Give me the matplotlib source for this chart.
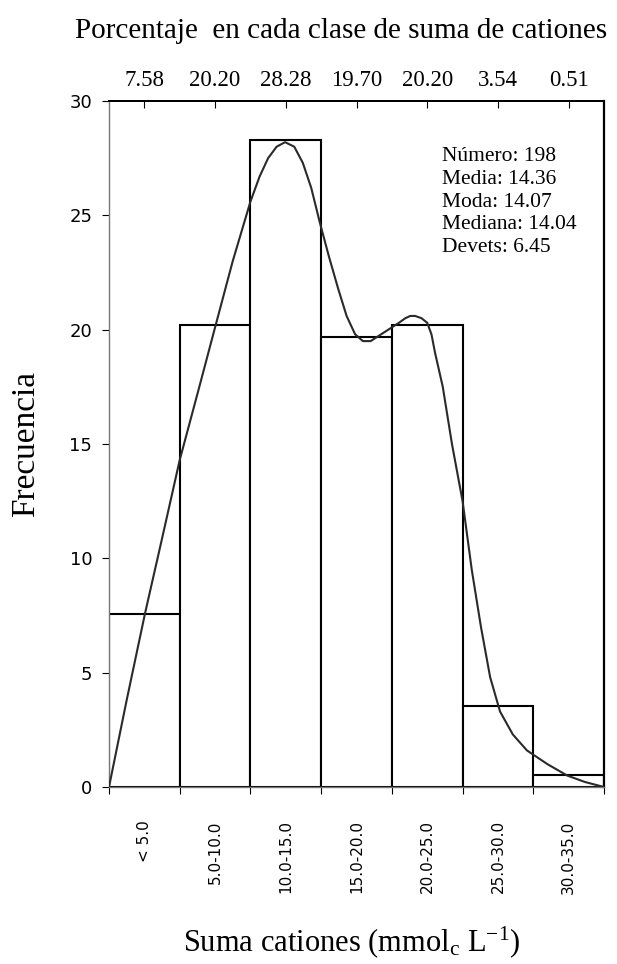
import numpy as np
import matplotlib
matplotlib.use('Agg')
import matplotlib.pyplot as plt

plt.rcParams['font.family'] = ['Liberation Serif', 'DejaVu Serif']
plt.rcParams['mathtext.fontset'] = 'custom'
plt.rcParams['mathtext.rm'] = 'Liberation Serif'
plt.rcParams['mathtext.it'] = 'Liberation Serif:italic'

# classes of cation sum and percentage per class
clases = ['< 5.0', '5.0-10.0', '10.0-15.0', '15.0-20.0', '20.0-25.0', '25.0-30.0', '30.0-35.0']
porcentaje = [7.58, 20.20, 28.28, 19.70, 20.20, 3.54, 0.51]

# smoothed density curve (position in class units, frequency)
curva_x = [0.0, 0.25, 0.51, 0.76, 1.0, 1.26, 1.5, 1.75, 2.0, 2.13, 2.25, 2.37, 2.49,
           2.62, 2.74, 2.86, 2.98, 3.11, 3.24, 3.36, 3.48, 3.59, 3.70, 3.80, 3.90,
           4.0, 4.1, 4.19, 4.26, 4.33, 4.42, 4.5, 4.56, 4.61, 4.72, 4.85, 5.0,
           5.13, 5.26, 5.39, 5.53, 5.71, 5.91, 6.2, 6.48, 6.73, 7.0]
curva_y = [0.0, 3.8, 7.6, 11.0, 14.3, 17.3, 20.1, 23.0, 25.6, 26.7, 27.5, 28.0, 28.2,
           28.0, 27.3, 26.2, 24.7, 23.2, 21.8, 20.6, 19.8, 19.5, 19.5, 19.7, 19.9,
           20.1, 20.3, 20.5, 20.6, 20.6, 20.5, 20.3, 19.8, 19.0, 17.5, 15.0, 12.5,
           9.5, 7.0, 4.8, 3.3, 2.3, 1.6, 1.0, 0.5, 0.22, 0.0]

stats = ['Número: 198', 'Media: 14.36', 'Moda: 14.07', 'Mediana: 14.04', 'Devets: 6.45']

fig = plt.figure(figsize=(6.17, 9.64), dpi=100)
ax = fig.add_axes([109/617, 1 - 787/964, 495/617, 686/964])

n = len(clases)
centros = np.arange(n) + 0.5
ax.bar(centros, porcentaje, width=1.0, color='white', edgecolor='black', linewidth=1.5, zorder=2)
ax.plot(curva_x, curva_y, color='#2a2a2a', linewidth=1.5, zorder=3)

ax.set_xlim(0, n)
ax.set_ylim(0, 30)

# y axis
ax.set_yticks(np.arange(0, 31, 5))
ax.tick_params(axis='y', direction='out', length=5, labelsize=13, pad=7)
for lab in ax.get_yticklabels():
    lab.set_family('DejaVu Sans')
ax.set_ylabel('Frecuencia', fontsize=24, labelpad=20)

# x axis: ticks at class edges, labels at class centers
ax.set_xticks(np.arange(0, n + 1))
ax.set_xticklabels([])
ax.set_xticks(centros, minor=True)
ax.set_xticklabels(clases, minor=True, rotation=90, fontsize=11, family='DejaVu Sans')
ax.tick_params(axis='x', which='major', direction='out', length=5)
ax.tick_params(axis='x', which='minor', length=0, pad=24)
ax.set_xlabel('Suma cationes (mmol$_\\mathrm{c}$ L$^{\\mathrm{-1}}$)', fontsize=22)
ax.xaxis.set_label_coords(0.49, -0.2)

# top axis with percentage per class
top = ax.secondary_xaxis('top')
top.set_xticks(centros)
top.set_xticklabels(['%.2f' % p for p in porcentaje], fontsize=16.5)
top.tick_params(direction='in', length=5, pad=7)

for s in ['left', 'bottom']:
    ax.spines[s].set_color('#777777')
    ax.spines[s].set_linewidth(1.0)
ax.spines['right'].set_linewidth(1.6)
ax.spines['top'].set_linewidth(1.4)
top.spines['top'].set_linewidth(1.4)

ax.text(0.673, 0.933, '\n'.join(stats), transform=ax.transAxes, fontsize=15.5,
        va='top', ha='left', linespacing=1.27)

fig.text(75/617, 0.968, 'Porcentaje  en cada clase de suma de cationes', fontsize=21,
         ha='left', va='center')

fig.savefig('out.png', dpi=100)
